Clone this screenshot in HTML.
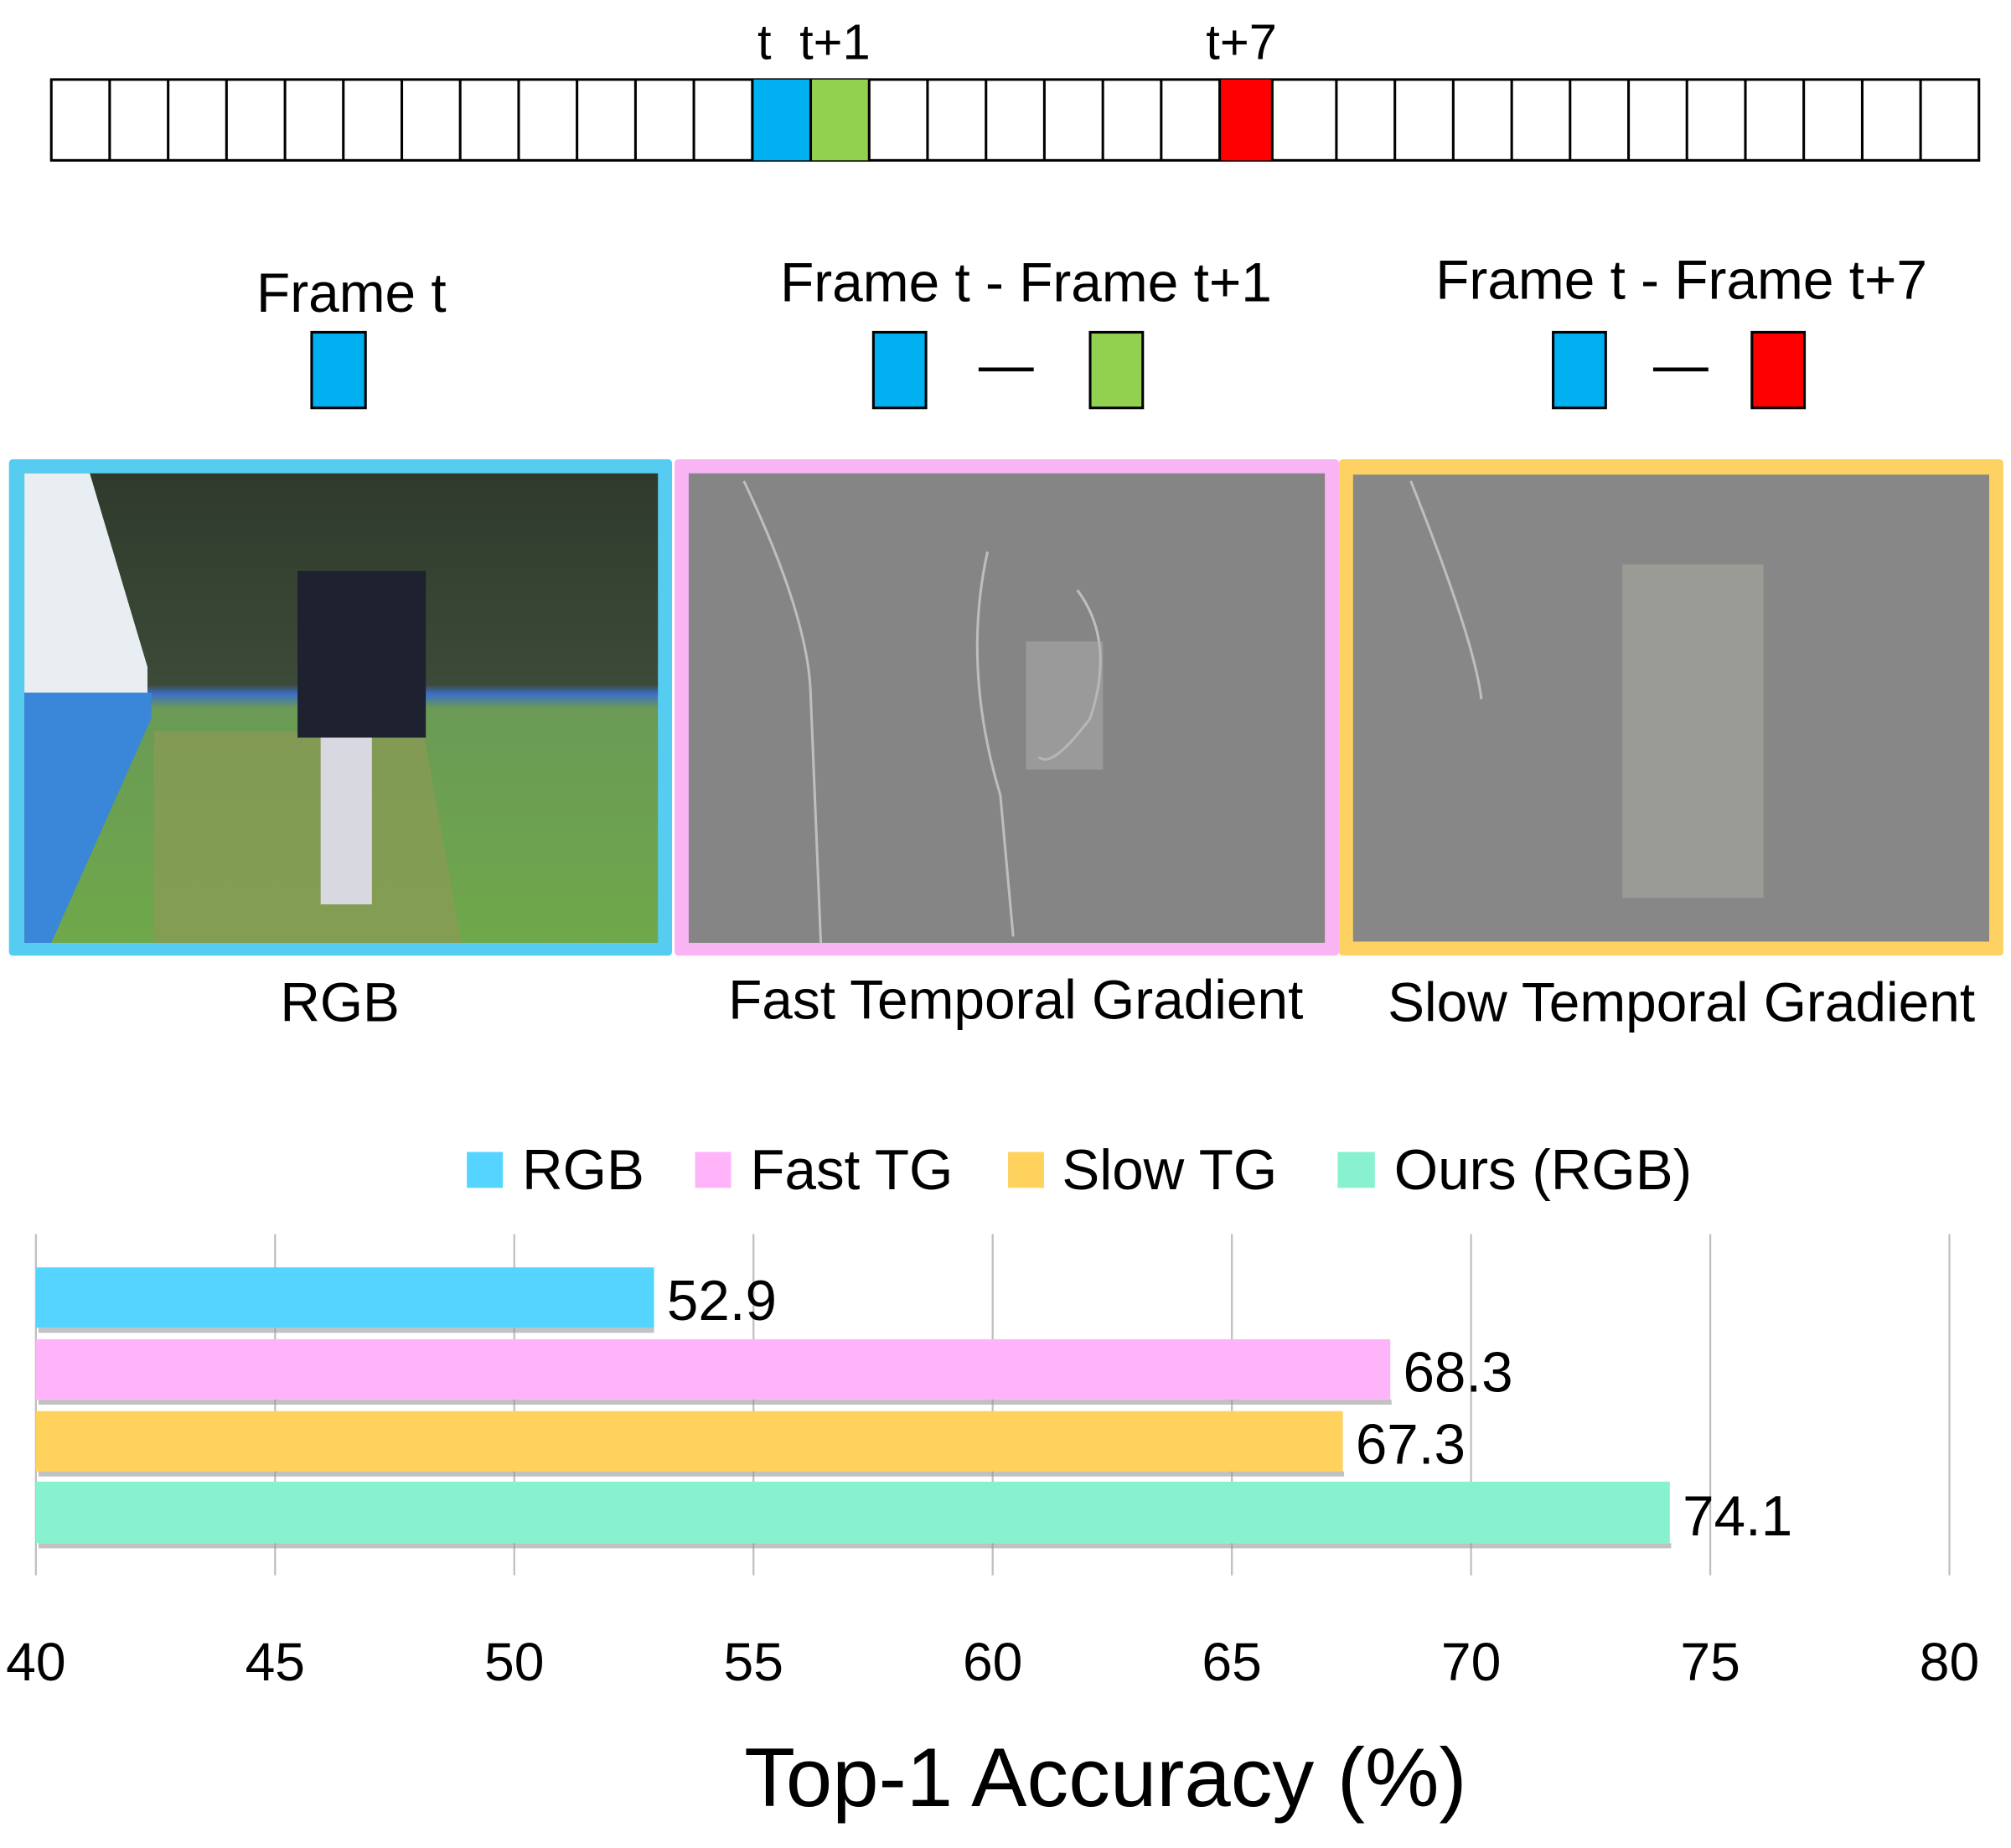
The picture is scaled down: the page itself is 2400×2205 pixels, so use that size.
<!DOCTYPE html>
<html><head><meta charset="utf-8"><style>
html,body{margin:0;padding:0;background:#fff;}
svg{display:block;}
text{font-family:"Liberation Sans",sans-serif;fill:#000;}
</style></head><body>
<svg width="2400" height="2205" viewBox="0 0 1568 1440.6" xmlns="http://www.w3.org/2000/svg">
<defs>
<linearGradient id="sky" x1="0" y1="0" x2="0" y2="1">
<stop offset="0" stop-color="#2f3a2c"/><stop offset="0.45" stop-color="#3d4a38"/><stop offset="0.47" stop-color="#3c6fc8"/><stop offset="0.5" stop-color="#6a9a55"/><stop offset="1" stop-color="#6fa84a"/>
</linearGradient>
</defs>
<rect x="40" y="62" width="1503" height="63" fill="#fff" stroke="#000" stroke-width="2"/>
<rect x="586.6" y="62" width="45.5" height="63" fill="#00b0f0"/>
<rect x="632.1" y="62" width="45.5" height="63" fill="#92d050"/>
<rect x="951" y="62" width="41" height="63" fill="#ff0000"/>
<g stroke="#000" stroke-width="2">
<line x1="85.5" y1="62" x2="85.5" y2="125"/><line x1="131.1" y1="62" x2="131.1" y2="125"/><line x1="176.6" y1="62" x2="176.6" y2="125"/><line x1="222.2" y1="62" x2="222.2" y2="125"/><line x1="267.7" y1="62" x2="267.7" y2="125"/><line x1="313.3" y1="62" x2="313.3" y2="125"/><line x1="358.8" y1="62" x2="358.8" y2="125"/><line x1="404.4" y1="62" x2="404.4" y2="125"/><line x1="449.9" y1="62" x2="449.9" y2="125"/><line x1="495.5" y1="62" x2="495.5" y2="125"/><line x1="541" y1="62" x2="541" y2="125"/><line x1="586.6" y1="62" x2="586.6" y2="125"/><line x1="632.1" y1="62" x2="632.1" y2="125"/><line x1="677.7" y1="62" x2="677.7" y2="125"/><line x1="723.2" y1="62" x2="723.2" y2="125"/><line x1="768.8" y1="62" x2="768.8" y2="125"/><line x1="814.3" y1="62" x2="814.3" y2="125"/><line x1="859.9" y1="62" x2="859.9" y2="125"/><line x1="905.4" y1="62" x2="905.4" y2="125"/><line x1="951" y1="62" x2="951" y2="125"/><line x1="992" y1="62" x2="992" y2="125"/><line x1="1042" y1="62" x2="1042" y2="125"/><line x1="1087.6" y1="62" x2="1087.6" y2="125"/><line x1="1133.1" y1="62" x2="1133.1" y2="125"/><line x1="1178.7" y1="62" x2="1178.7" y2="125"/><line x1="1224.2" y1="62" x2="1224.2" y2="125"/><line x1="1269.8" y1="62" x2="1269.8" y2="125"/><line x1="1315.3" y1="62" x2="1315.3" y2="125"/><line x1="1360.9" y1="62" x2="1360.9" y2="125"/><line x1="1406.4" y1="62" x2="1406.4" y2="125"/><line x1="1452" y1="62" x2="1452" y2="125"/><line x1="1497.5" y1="62" x2="1497.5" y2="125"/>
</g>
<text x="596" y="46" font-size="39" text-anchor="middle">t</text>
<text x="651" y="46" font-size="39" text-anchor="middle">t+1</text>
<text x="968" y="46" font-size="39" text-anchor="middle">t+7</text>

<text x="274" y="243" font-size="43" text-anchor="middle">Frame t</text>
<text x="800" y="235" font-size="43" text-anchor="middle">Frame t - Frame t+1</text>
<text x="1311" y="233" font-size="43" text-anchor="middle">Frame t - Frame t+7</text>
<g stroke="#000" stroke-width="2">
<rect x="243" y="259" width="42" height="59" fill="#00b0f0"/>
<rect x="681" y="259" width="41" height="59" fill="#00b0f0"/>
<rect x="850" y="259" width="41" height="59" fill="#92d050"/>
<rect x="1211" y="259" width="41" height="59" fill="#00b0f0"/>
<rect x="1366" y="259" width="41" height="59" fill="#ff0000"/>
<line x1="763" y1="288" x2="806" y2="288" stroke-width="3"/>
<line x1="1289" y1="288" x2="1332" y2="288" stroke-width="3"/>
</g>

<rect x="7" y="358" width="517" height="387" rx="3" fill="#55ccf0"/>
<rect x="19" y="369" width="494" height="366" fill="url(#sky)"/>
<polygon points="19,369 70,369 115,520 115,540 19,540" fill="#e8eef2"/>
<polygon points="19,540 118,540 118,560 40,735 19,735" fill="#3a86d8"/>
<polygon points="120,570 330,570 360,735 120,735" fill="#8c9a55" opacity="0.7"/>
<rect x="232" y="445" width="100" height="130" fill="#1d2130"/>
<rect x="250" y="575" width="40" height="130" fill="#d8d8e0"/>
<rect x="526" y="358" width="518" height="387" rx="3" fill="#f9b4f4"/>
<rect x="537" y="369" width="496" height="366" fill="#858585"/>
<rect x="1044" y="358" width="518" height="387" rx="3" fill="#fdd263"/>
<rect x="1055" y="370" width="496" height="364" fill="#878787"/>
<g fill="none" stroke="#ccc" stroke-width="2" opacity="0.8">
<path d="M580 375 Q630 480 632 540 L640 735"/>
<path d="M770 430 Q750 520 780 620 L790 730"/>
<path d="M1100 375 Q1150 500 1155 545"/>
<path d="M840 460 Q870 500 850 560 Q820 600 810 590"/>
</g>
<rect x="1265" y="440" width="110" height="260" fill="#a8a8a0" opacity="0.6"/>
<rect x="800" y="500" width="60" height="100" fill="#b0b0b0" opacity="0.5"/>
<text x="265" y="796" font-size="43" text-anchor="middle">RGB</text>
<text x="792" y="794" font-size="43" text-anchor="middle">Fast Temporal Gradient</text>
<text x="1311" y="796" font-size="43" text-anchor="middle">Slow Temporal Gradient</text>

<rect x="364" y="898" width="28" height="28" fill="#55d4ff"/>
<text x="407" y="927" font-size="44">RGB</text>
<rect x="542" y="898" width="28" height="28" fill="#ffb4fa"/>
<text x="585" y="927" font-size="44">Fast TG</text>
<rect x="786" y="898" width="28" height="28" fill="#ffd25e"/>
<text x="828" y="927" font-size="44">Slow TG</text>
<rect x="1043" y="898" width="29" height="28" fill="#88f2d0"/>
<text x="1087" y="927" font-size="44">Ours (RGB)</text>

<g stroke="#c0c0c0" stroke-width="1.5">
<line x1="28" y1="962" x2="28" y2="1228"/><line x1="214.5" y1="962" x2="214.5" y2="1228"/><line x1="401" y1="962" x2="401" y2="1228"/><line x1="587.5" y1="962" x2="587.5" y2="1228"/><line x1="774" y1="962" x2="774" y2="1228"/><line x1="960.5" y1="962" x2="960.5" y2="1228"/><line x1="1147" y1="962" x2="1147" y2="1228"/><line x1="1333.5" y1="962" x2="1333.5" y2="1228"/><line x1="1520" y1="962" x2="1520" y2="1228"/>
</g>
<g fill="#999" opacity="0.6">
<rect x="30" y="1035" width="480" height="4"/><rect x="30" y="1091" width="1055" height="4"/><rect x="30" y="1147" width="1018" height="4"/><rect x="30" y="1203" width="1273" height="4"/>
</g>
<rect x="28" y="988" width="482" height="47" fill="#55d4ff"/>
<rect x="28" y="1044" width="1056" height="47" fill="#ffb4fa"/>
<rect x="28" y="1100" width="1019" height="47" fill="#ffd25e"/>
<rect x="28" y="1155" width="1274" height="48" fill="#88f2d0"/>
<text x="520" y="1029" font-size="44">52.9</text>
<text x="1094" y="1085" font-size="44">68.3</text>
<text x="1057" y="1141" font-size="44">67.3</text>
<text x="1312" y="1197" font-size="44">74.1</text>

<g font-size="42" text-anchor="middle">
<text x="28" y="1310">40</text><text x="214.5" y="1310">45</text><text x="401" y="1310">50</text><text x="587.5" y="1310">55</text><text x="774" y="1310">60</text><text x="960.5" y="1310">65</text><text x="1147" y="1310">70</text><text x="1333.5" y="1310">75</text><text x="1520" y="1310">80</text>
</g>
<text x="862" y="1408" font-size="65" text-anchor="middle">Top-1 Accuracy (%)</text>
</svg>
</body></html>
